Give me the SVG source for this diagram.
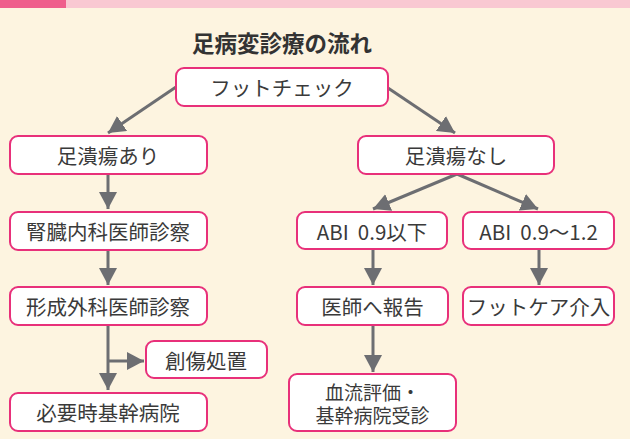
<svg xmlns="http://www.w3.org/2000/svg" width="630" height="439" viewBox="0 0 630 439">
<defs>
<style>
.box{fill:#fff;stroke:#E8307A;stroke-width:2}
.t{font-family:"Noto Sans CJK JP","Noto Sans",sans-serif;font-size:20.5px;fill:#3a3a3a;text-anchor:middle;dominant-baseline:central;white-space:pre}
.t2{font-size:19px}
.ttl{font-family:"Noto Sans CJK JP","Noto Sans",sans-serif;font-size:22.5px;font-weight:bold;fill:#333;text-anchor:middle;dominant-baseline:central}
.c{stroke:#6D6E72;stroke-width:3;fill:none}
</style>
<marker id="ah" markerUnits="userSpaceOnUse" markerWidth="18" markerHeight="18" refX="17" refY="9" orient="auto" viewBox="0 0 18 18">
<path d="M0,0 L17,9 L0,18 z" fill="#6D6E72"/>
</marker>
</defs>
<rect width="630" height="439" fill="#FDF4E0"/>
<rect x="0" y="0" width="66" height="8" fill="#EF5E8C"/>
<rect x="66" y="0" width="564" height="8" fill="#F9C8D2"/>
<text class="ttl" x="282" y="42">足病変診療の流れ</text>
<g id="connectors">
<line class="c" x1="176" y1="87" x2="108" y2="133" marker-end="url(#ah)"/>
<line class="c" x1="388" y1="88" x2="455" y2="133" marker-end="url(#ah)"/>
<line class="c" x1="108" y1="174" x2="108" y2="209" marker-end="url(#ah)"/>
<line class="c" x1="108" y1="250" x2="108" y2="285" marker-end="url(#ah)"/>
<line class="c" x1="108" y1="325" x2="108" y2="390" marker-end="url(#ah)"/>
<line class="c" x1="108" y1="361" x2="144" y2="361" marker-end="url(#ah)"/>
<line class="c" x1="457" y1="174" x2="373" y2="209" marker-end="url(#ah)"/>
<line class="c" x1="457" y1="174" x2="538" y2="209" marker-end="url(#ah)"/>
<line class="c" x1="373" y1="249" x2="373" y2="285" marker-end="url(#ah)"/>
<line class="c" x1="539" y1="249" x2="539" y2="285" marker-end="url(#ah)"/>
<line class="c" x1="373" y1="325" x2="373" y2="372" marker-end="url(#ah)"/>
</g>
<g id="n_footcheck"><rect class="box" x="176" y="68" width="212" height="38" rx="8"/><text class="t" x="282" y="87">フットチェック</text></g>
<g id="n_ulcer_yes"><rect class="box" x="10" y="136" width="197" height="38" rx="8"/><text class="t" x="108" y="155">足潰瘍あり</text></g>
<g id="n_ulcer_no"><rect class="box" x="358" y="136" width="196" height="38" rx="8"/><text class="t" x="456" y="155">足潰瘍なし</text></g>
<g id="n_nephro"><rect class="box" x="10" y="212" width="197" height="38" rx="8"/><text class="t" x="108" y="231">腎臓内科医師診察</text></g>
<g id="n_ortho"><rect class="box" x="10" y="287" width="197" height="38" rx="8"/><text class="t" x="108" y="306">形成外科医師診察</text></g>
<g id="n_wound"><rect class="box" x="146" y="341" width="121" height="37" rx="8"/><text class="t" x="206" y="359.5">創傷処置</text></g>
<g id="n_hospital"><rect class="box" x="10" y="393" width="197" height="38" rx="8"/><text class="t" x="108" y="412">必要時基幹病院</text></g>
<g id="n_abi_low"><rect class="box" x="297" y="212" width="150" height="37" rx="8"/><text class="t" x="372" y="230.5" xml:space="preserve">ABI  0.9以下</text></g>
<g id="n_abi_mid"><rect class="box" x="463" y="212" width="151" height="37" rx="8"/><text class="t" x="538.5" y="230.5" xml:space="preserve">ABI  0.9〜1.2</text></g>
<g id="n_report"><rect class="box" x="297" y="287" width="151" height="38" rx="8"/><text class="t" x="372.5" y="306">医師へ報告</text></g>
<g id="n_footcare"><rect class="box" x="463" y="287" width="151" height="38" rx="8"/><text class="t" x="538.5" y="306">フットケア介入</text></g>
<g id="n_blood"><rect class="box" x="289" y="374" width="167" height="57" rx="8"/><text class="t t2" x="372.5" y="391">血流評価・</text><text class="t t2" x="372.5" y="414.5">基幹病院受診</text></g>
</svg>
